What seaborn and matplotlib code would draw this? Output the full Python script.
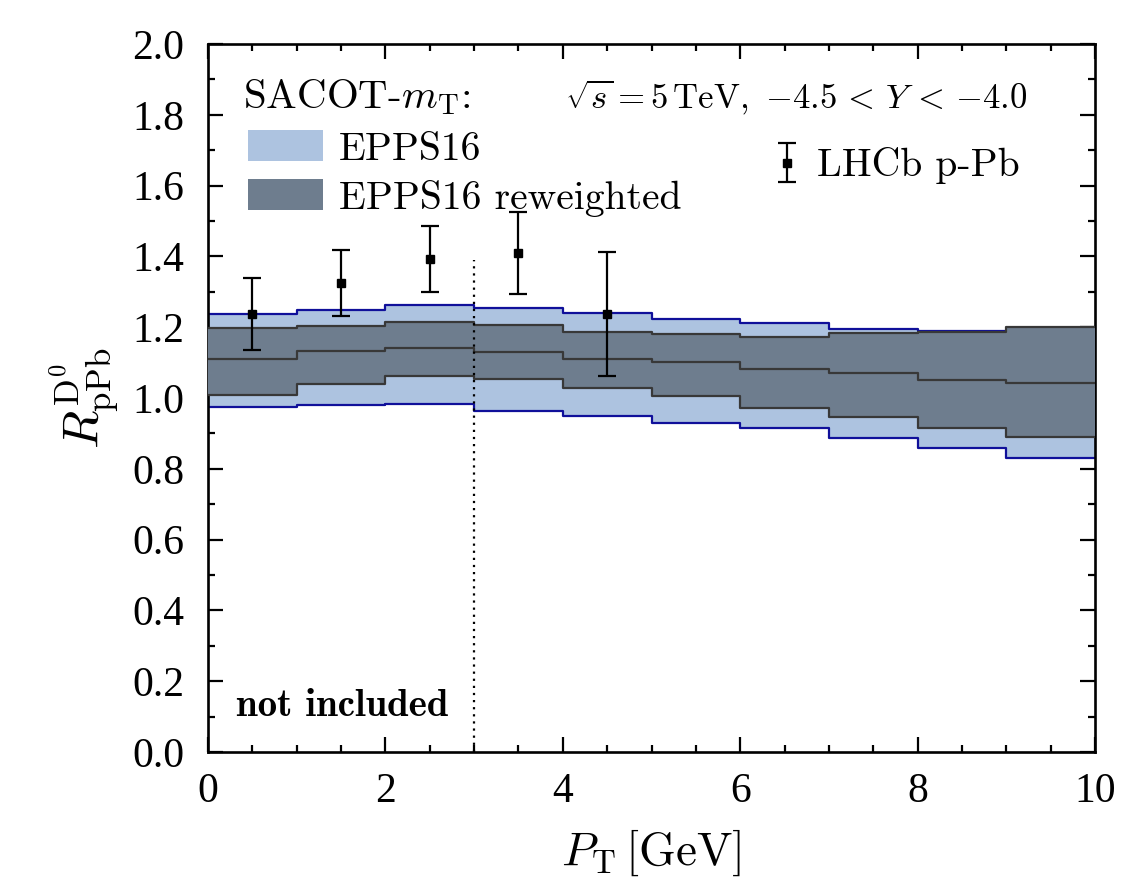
import numpy as np
import matplotlib
matplotlib.use("Agg")
import matplotlib.pyplot as plt
import seaborn as sns
from matplotlib.patches import Patch
from matplotlib.ticker import MultipleLocator, FormatStrFormatter

# ---------------- data ----------------
pt_edges = [0, 1, 2, 3, 4, 5, 6, 7, 8, 9, 10]
epps_up = [1.237, 1.249, 1.264, 1.253, 1.239, 1.222, 1.211, 1.195, 1.190, 1.186]
epps_lo = [0.975, 0.979, 0.982, 0.964, 0.949, 0.930, 0.915, 0.888, 0.860, 0.830]
rw_up = [1.197, 1.204, 1.214, 1.206, 1.186, 1.180, 1.171, 1.183, 1.187, 1.200]
rw_mid = [1.110, 1.133, 1.141, 1.131, 1.109, 1.103, 1.081, 1.072, 1.051, 1.041]
rw_lo = [1.008, 1.040, 1.062, 1.055, 1.029, 1.006, 0.973, 0.947, 0.914, 0.889]

data_pt = [0.5, 1.5, 2.5, 3.5, 4.5]
data_r = [1.237, 1.326, 1.392, 1.411, 1.238]
data_hi = [1.340, 1.419, 1.485, 1.526, 1.413]
data_lo = [1.136, 1.231, 1.300, 1.295, 1.063]

cut_pt = 3.0
cut_top = 1.39

xticks = [0, 2, 4, 6, 8, 10]
yticks = [0.0, 0.2, 0.4, 0.6, 0.8, 1.0, 1.2, 1.4, 1.6, 1.8, 2.0]

# ---------------- style ----------------
sns.set_theme(style="ticks")
plt.rcParams["font.family"] = ["Liberation Serif", "DejaVu Serif"]
plt.rcParams["mathtext.fontset"] = "cm"
plt.rcParams["text.color"] = "black"
plt.rcParams["axes.labelcolor"] = "black"

light = "#adc3e0"
dark = "#6e7d8e"
blue_edge = "#10109a"
dark_edge = "#383838"

fig = plt.figure(figsize=(11.27, 8.91), dpi=100)
ax = fig.add_axes([208 / 1127, 1 - 752 / 891, (1095 - 208) / 1127, (752 - 44) / 891])


def ext(v):
    return list(v) + [v[-1]]


# EPPS16 band
ax.fill_between(pt_edges, ext(epps_lo), ext(epps_up), step="post",
                color=light, lw=0, zorder=1)
for arr in (epps_up, epps_lo):
    sns.lineplot(x=pt_edges, y=ext(arr), drawstyle="steps-post", color=blue_edge,
                 lw=1.6, ax=ax, legend=False, zorder=2)

# reweighted band
ax.fill_between(pt_edges, ext(rw_lo), ext(rw_up), step="post",
                color=dark, lw=0, zorder=3)
for arr in (rw_up, rw_mid, rw_lo):
    sns.lineplot(x=pt_edges, y=ext(arr), drawstyle="steps-post", color=dark_edge,
                 lw=1.6, ax=ax, legend=False, zorder=4)

# data
yerr = [np.array(data_r) - np.array(data_lo), np.array(data_hi) - np.array(data_r)]
eb = ax.errorbar(data_pt, data_r, yerr=yerr, fmt="s", color="black", ms=6,
                 elinewidth=1.6, capsize=6.5, capthick=1.6, zorder=6)

# cut line
ax.plot([cut_pt, cut_pt], [0, cut_top], ls=(0, (1, 2.2)), color="black", lw=1.6, zorder=5)

ax.set_xlim(0, 10)
ax.set_ylim(0, 2.0)
ax.set_xticks(xticks)
ax.set_yticks(yticks)
ax.yaxis.set_major_formatter(FormatStrFormatter("%.1f"))
ax.xaxis.set_minor_locator(MultipleLocator(0.5))
ax.yaxis.set_minor_locator(MultipleLocator(0.1))
ax.tick_params(which="both", direction="in", top=True, right=True, colors="black",
               labelsize=30, width=1.6)
ax.tick_params(which="major", length=11)
ax.tick_params(which="minor", length=5)
ax.tick_params(axis="y", which="major", pad=17)
ax.tick_params(axis="x", which="major", pad=15)
for s in ax.spines.values():
    s.set_linewidth(1.9)
    s.set_color("black")

ax.set_xlabel(r"$P_{\mathrm{T}}\,[\mathrm{GeV}]$", fontsize=34, labelpad=12)
ax.set_ylabel(r"$R^{\mathrm{D}^0}_{\mathrm{pPb}}$", fontsize=36, labelpad=8)

# texts
ax.text(0.04, 0.925, r"SACOT-$m_{\mathrm{T}}$:", transform=ax.transAxes,
        fontsize=29.5, family="cmr10", va="center", ha="left")
ax.text(0.402, 0.925, r"$\sqrt{s} = 5\,\mathrm{TeV},\ {-4.5}\,<\,Y\,<\,{-4.0}$",
        transform=ax.transAxes, fontsize=25, va="center", ha="left")
ax.text(0.032, 0.064, "not included", transform=ax.transAxes, fontsize=28,
        family="cmb10", va="center", ha="left")

handles = [Patch(facecolor=light, edgecolor="none"),
           Patch(facecolor=dark, edgecolor="none")]
leg1 = ax.legend(handles, ["EPPS16", "EPPS16 reweighted"], loc="upper left",
                 bbox_to_anchor=(0.045, 0.878), frameon=False,
                 prop={"family": "cmr10", "size": 28.5}, handlelength=1.9,
                 handleheight=0.82, labelspacing=0.3, handletextpad=0.4,
                 borderaxespad=0, borderpad=0)
ax.add_artist(leg1)
leg2 = ax.legend([eb], ["LHCb p-Pb"], loc="upper left", bbox_to_anchor=(0.642, 0.854),
                 frameon=False, prop={"family": "cmr10", "size": 28.5},
                 handlelength=0.5, handletextpad=0.5, borderaxespad=0, borderpad=0)

fig.savefig("out.png", dpi=100)
